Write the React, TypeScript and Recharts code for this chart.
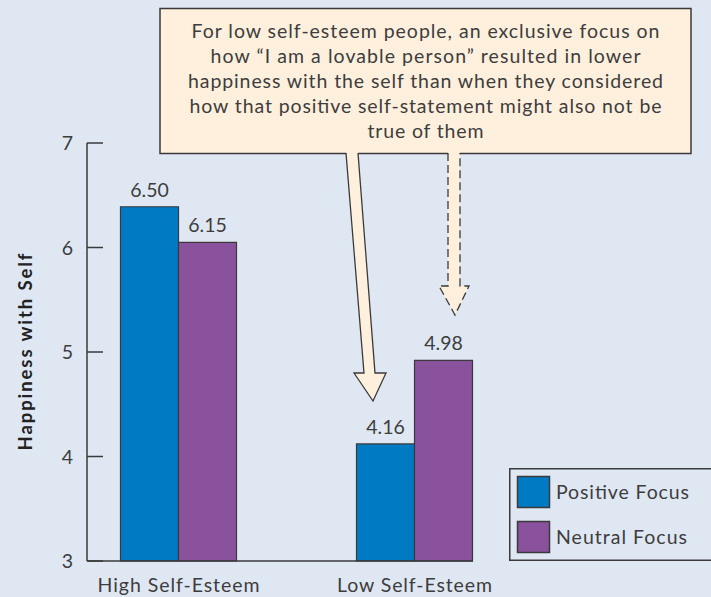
import { BarChart, Bar, XAxis, YAxis, LabelList, Legend } from 'recharts';

// Bar heights as drawn; the printed labels in the source differ slightly from the bars
const categories = ['High Self-Esteem', 'Low Self-Esteem'];
const positiveFocus = [6.39, 4.12];
const neutralFocus = [6.05, 4.92];
const positiveLabels = ['6.50', '4.16'];
const neutralLabels = ['6.15', '4.98'];
const yTicks = [3, 4, 5, 6, 7];
const seriesNames = ['Positive Focus', 'Neutral Focus'];
const calloutLines = [
  'For low self-esteem people, an exclusive focus on',
  'how \u201CI am a lovable person\u201D resulted in lower',
  'happiness with the self than when they considered',
  'how that positive self-statement might also not be',
  'true of them',
];

const BG = '#dfe7f3';
const BLUE = '#007bc3';
const PURPLE = '#8a519c';
const CREAM = '#fff0dd';
const INK = '#3d3d3d';
const AXIS = '#3a3a3a';
const FONT = 'Lato, "Open Sans", sans-serif';
const FS = 19.5;

// measured text widths of the source (the original face is wider than Lato)
const calloutWidths = [468, 430, 475, 472, 116];
const categoryWidths = [162, 155];
const legendWidths = [133, 131];

const data = categories.map((category, i) => ({
  category,
  positive: positiveFocus[i],
  neutral: neutralFocus[i],
  positiveLabel: positiveLabels[i],
  neutralLabel: neutralLabels[i],
}));

/** y tick: label on the left, short tick mark pointing into the plot */
function YTick(props: any) {
  const { x, y, payload } = props;
  return (
    <g>
      <line x1={x + 14} x2={x + 30} y1={y} y2={y} stroke={AXIS} strokeWidth={1.5} />
      <text x={x} y={y} dy="0.36em" textAnchor="end" fill={INK} fontSize={FS} fontFamily={FONT}>
        {payload.value}
      </text>
    </g>
  );
}

function XTick(props: any) {
  const { x, y, payload, index } = props;
  return (
    <text
      x={x}
      y={y}
      dy="0.71em"
      textAnchor="middle"
      fill={INK}
      fontSize={FS}
      fontFamily={FONT}
      textLength={categoryWidths[index]}
      lengthAdjust="spacing"
    >
      {payload.value}
    </text>
  );
}

function BarValue(props: any) {
  const { x, y, width, value } = props;
  return (
    <text
      x={x + width / 2}
      y={y - 10}
      textAnchor="middle"
      fill={INK}
      fontSize={FS}
      fontFamily={FONT}
      textLength={38.5}
      lengthAdjust="spacing"
    >
      {value}
    </text>
  );
}

function LegendBox() {
  const colors = [BLUE, PURPLE];
  return (
    <svg width={220} height={93} style={{ display: 'block' }}>
      <rect x={0.75} y={0.75} width={230} height={91.5} fill={BG} stroke={AXIS} strokeWidth={1.5} />
      {seriesNames.map((name, i) => (
        <g key={name}>
          <rect x={8.5} y={8.5 + i * 45} width={32} height={31} fill={colors[i]} stroke={AXIS} strokeWidth={1.5} />
          <text
            x={47}
            y={24 + i * 45}
            dy="0.36em"
            fill={INK}
            fontSize={FS}
            fontFamily={FONT}
            textLength={legendWidths[i]}
            lengthAdjust="spacing"
          >
            {name}
          </text>
        </g>
      ))}
    </svg>
  );
}

function Callout() {
  return (
    <svg width={711} height={597} style={{ position: 'absolute', left: 0, top: 0, pointerEvents: 'none' }}>
      <rect x={160} y={8.5} width={531} height={145} fill={CREAM} stroke={AXIS} strokeWidth={1.5} />
      {calloutLines.map((line, i) => (
        <text
          key={i}
          x={425.5}
          y={31 + i * 25}
          dy="0.36em"
          textAnchor="middle"
          fill={INK}
          fontSize={FS}
          fontFamily={FONT}
          textLength={calloutWidths[i]}
          lengthAdjust="spacing"
        >
          {line}
        </text>
      ))}
      {/* solid arrow */}
      <polygon points="346,151 358,151 375,373 386,373 373,401 354,373 364,373" fill={CREAM} />
      <polyline points="346,153 364,373 354,373 373,401 386,373 375,373 358,153" fill="none" stroke={AXIS} strokeWidth={1.3} />
      {/* dashed arrow */}
      <polygon points="448,151 460,151 460,286 469,286 455,315 439,286 448,286" fill={CREAM} />
      <polyline
        points="448,153 448,286 439,286 455,315 469,286 460,286 460,153"
        fill="none"
        stroke={AXIS}
        strokeWidth={1.3}
        strokeDasharray="8 4"
      />
    </svg>
  );
}

export default function App() {
  return (
    <div style={{ position: 'absolute', left: 0, top: 0, width: 711, height: 597, background: BG, overflow: 'hidden' }}>
      <BarChart
        width={711}
        height={597}
        data={data}
        margin={{ top: 143, right: 238, bottom: 0, left: 0 }}
        barGap={0}
        barSize={58}
      >
        <XAxis
          dataKey="category"
          padding={{ left: -26.5, right: -59.5 }}
          height={36}
          tickSize={0}
          tickMargin={17}
          tickLine={false}
          axisLine={{ stroke: AXIS, strokeWidth: 1.5 }}
          tick={<XTick />}
        />
        <YAxis
          domain={[3, 7]}
          ticks={yTicks}
          width={87}
          tickSize={0}
          tickMargin={14}
          tickLine={false}
          axisLine={{ stroke: AXIS, strokeWidth: 1.5 }}
          tick={<YTick />}
          label={{
            content: (p: any) => (
              <text
                x={25}
                y={p.viewBox.y + p.viewBox.height / 2}
                transform={`rotate(-90, 25, ${p.viewBox.y + p.viewBox.height / 2})`}
                dy="0.36em"
                textAnchor="middle"
                fill="#222"
                fontSize={18.5}
                fontWeight={700}
                fontFamily={FONT}
                textLength={197}
                lengthAdjust="spacing"
              >
                Happiness with Self
              </text>
            ),
          }}
        />
        <Legend
          layout="vertical"
          align="center"
          verticalAlign="middle"
          content={() => <LegendBox />}
          wrapperStyle={{ left: 509, top: 468, width: 220, height: 93 }}
        />
        <Bar dataKey="positive" name={seriesNames[0]} fill={BLUE} stroke={AXIS} strokeWidth={1.2} isAnimationActive={false}>
          <LabelList dataKey="positiveLabel" content={<BarValue />} />
        </Bar>
        <Bar dataKey="neutral" name={seriesNames[1]} fill={PURPLE} stroke={AXIS} strokeWidth={1.2} isAnimationActive={false}>
          <LabelList dataKey="neutralLabel" content={<BarValue />} />
        </Bar>
      </BarChart>
      <Callout />
    </div>
  );
}
